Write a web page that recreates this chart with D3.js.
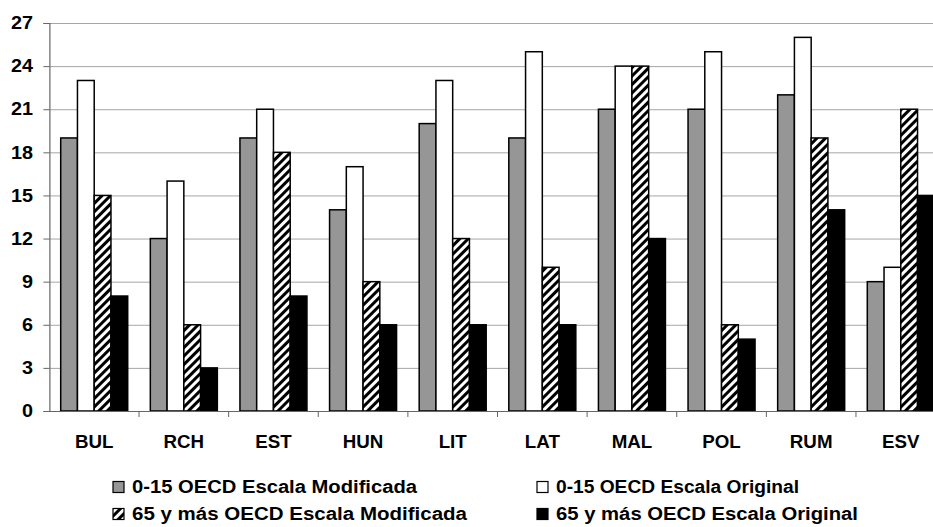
<!DOCTYPE html>
<html>
<head>
<meta charset="utf-8">
<script src="https://cdn.jsdelivr.net/npm/d3@7"></script>
<style>
  html, body { margin: 0; padding: 0; background: #fff; }
  svg { display: block; }
  text { font-family: Arial, "Liberation Sans", sans-serif; font-weight: bold; fill: #000; }
</style>
</head>
<body>
<svg id="chart" width="933" height="527"></svg>
<script>
// Country codes along the x axis
const categories = ["BUL", "RCH", "EST", "HUN", "LIT", "LAT", "MAL", "POL", "RUM", "ESV"];

// Series values per country
const menoresModificada = [19, 12, 19, 14, 20, 19, 21, 21, 22, 9];
const menoresOriginal   = [23, 16, 21, 17, 23, 25, 24, 25, 26, 10];
const mayoresModificada = [15, 6, 18, 9, 12, 10, 24, 6, 19, 21];
const mayoresOriginal   = [8, 3, 8, 6, 6, 6, 12, 5, 14, 15];

const seriesNames = [
  "0-15 OECD Escala Modificada",
  "0-15 OECD Escala Original",
  "65 y más OECD Escala Modificada",
  "65 y más OECD Escala Original"
];

const yTicks = [0, 3, 6, 9, 12, 15, 18, 21, 24, 27];

const series = [menoresModificada, menoresOriginal, mayoresModificada, mayoresOriginal];
const fills = ["#969696", "#ffffff", "url(#hatch)", "#000000"];

const svg = d3.select("#chart");

// Diagonal hatch pattern
const defs = svg.append("defs");
const pat = defs.append("pattern")
  .attr("id", "hatch")
  .attr("patternUnits", "userSpaceOnUse")
  .attr("width", 6).attr("height", 6)
  .attr("patternTransform", "rotate(45)");
pat.append("rect").attr("width", 6).attr("height", 6).attr("fill", "#fff");
pat.append("rect").attr("width", 3).attr("height", 6).attr("fill", "#000");

const plotLeft = 49.4, plotRight = 945.6, plotTop = 23, plotBottom = 411;
const font = "Arial, 'Liberation Sans', sans-serif";

const x0 = d3.scaleBand().domain(categories).range([plotLeft, plotRight]).paddingInner(0).paddingOuter(0);
const x1 = d3.scaleBand().domain(d3.range(series.length)).range([0, x0.bandwidth()])
  .paddingInner(0).paddingOuter(0.675);
const y = d3.scaleLinear().domain([0, 27]).range([plotBottom, plotTop]);

// Gridlines
svg.append("g").selectAll("line")
  .data(yTicks.filter(t => t > 0))
  .join("line")
  .attr("x1", plotLeft).attr("x2", 933)
  .attr("y1", d => y(d) + 0.5).attr("y2", d => y(d) + 0.5)
  .attr("stroke", "#a6a6a6").attr("stroke-width", 1);

// Y axis
const yAxis = svg.append("g")
  .attr("transform", `translate(${plotLeft},0)`)
  .call(d3.axisLeft(y).tickValues(yTicks).tickSize(6).tickPadding(9).tickFormat(d3.format("d")));
yAxis.select(".domain").attr("stroke", "#666").attr("stroke-width", 1.2);
yAxis.selectAll(".tick line").attr("stroke", "#666");
yAxis.selectAll(".tick text")
  .style("font-size", "18px").style("font-family", font)
  .style("font-weight", "bold").attr("fill", "#000")
  .attr("transform", "scale(1.1,1)");

// Bars
const groups = svg.append("g").selectAll("g")
  .data(categories)
  .join("g")
  .attr("transform", d => `translate(${x0(d)},0)`);

groups.selectAll("rect")
  .data((c, i) => series.map((s, k) => ({ k, v: s[i] })))
  .join("rect")
  .attr("x", d => x1(d.k))
  .attr("y", d => y(d.v))
  .attr("width", x1.bandwidth())
  .attr("height", d => y(0) - y(d.v))
  .attr("fill", d => fills[d.k])
  .attr("stroke", "#000")
  .attr("stroke-width", 1.5);

// X axis
const xAxis = svg.append("g")
  .attr("transform", `translate(0,${plotBottom})`)
  .call(d3.axisBottom(x0).tickSize(0).tickPadding(24));
xAxis.select(".domain").attr("stroke", "#666").attr("stroke-width", 1.2);
xAxis.selectAll(".tick text")
  .style("font-size", "18px").style("font-family", font)
  .style("font-weight", "bold").attr("fill", "#000")
  .attr("transform", "scale(1.04,1)");
// Category separator ticks
xAxis.append("g").selectAll("line")
  .data(categories.slice(1))
  .join("line")
  .attr("x1", d => x0(d)).attr("x2", d => x0(d))
  .attr("y1", 0).attr("y2", 6)
  .attr("stroke", "#666");

// Legend
const legendPos = [
  { x: 113, y: 487, w: 285 },
  { x: 537, y: 487, w: 243 },
  { x: 113, y: 514, w: 335 },
  { x: 537, y: 514, w: 302 }
];
const legend = svg.append("g").selectAll("g")
  .data(seriesNames)
  .join("g")
  .attr("transform", (d, i) => `translate(${legendPos[i].x},${legendPos[i].y})`);
legend.append("rect")
  .attr("x", 0).attr("y", -5.5).attr("width", 11).attr("height", 11)
  .attr("fill", (d, i) => fills[i])
  .attr("stroke", "#000").attr("stroke-width", 1.2);
legend.append("text")
  .attr("x", 19).attr("y", 0).attr("dy", "0.36em")
  .attr("textLength", (d, i) => legendPos[i].w)
  .attr("lengthAdjust", "spacingAndGlyphs")
  .style("font-size", "18px")
  .text(d => d);
</script>
</body>
</html>
